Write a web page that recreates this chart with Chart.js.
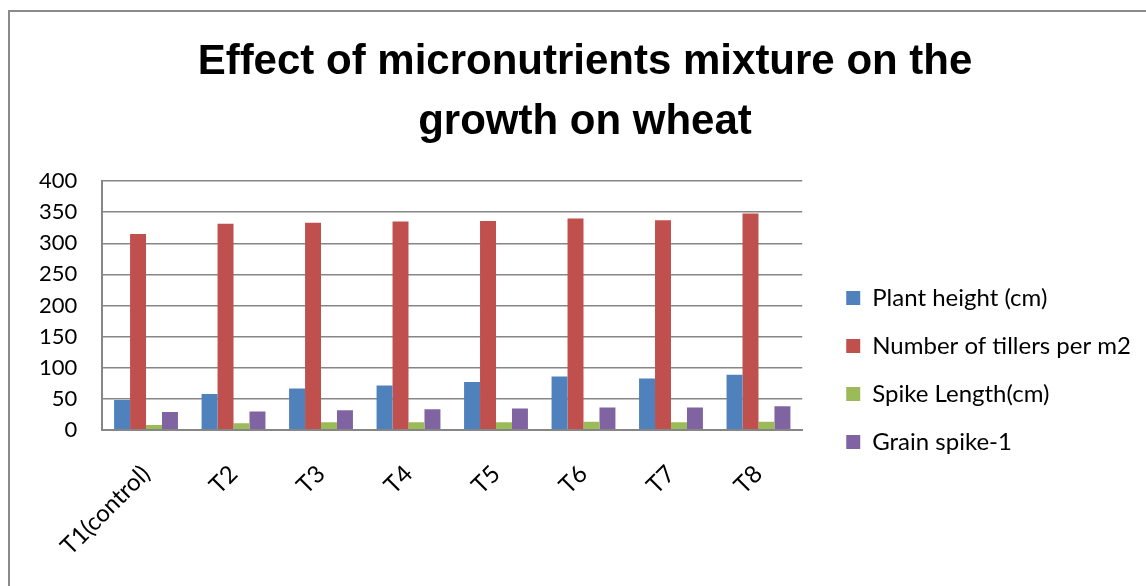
<!DOCTYPE html>
<html>
<head>
<meta charset="utf-8">
<script src="https://cdn.jsdelivr.net/npm/chart.js@4/dist/chart.umd.min.js"></script>
<style>
  html, body { margin: 0; padding: 0; background: #fff; overflow: hidden; }
  #frame {
    position: absolute; left: 8px; top: 10px;
    width: 1200px; height: 700px;
    border: 2px solid #8a8a8a;
  }
  #wrap { position: absolute; left: 10px; top: 12px; width: 1150px; height: 574px; }
</style>
</head>
<body>
<div id="frame"></div>
<div id="wrap"><canvas id="chart"></canvas></div>
<script>
const categories = ['T1(control)', 'T2', 'T3', 'T4', 'T5', 'T6', 'T7', 'T8'];
const plantHeight = [48, 57.5, 66.5, 71, 77, 85.5, 82.5, 88.5];
const tillers = [315, 331.5, 333, 335, 336, 340, 337, 348];
const spikeLength = [7.5, 10.5, 12, 12, 12, 13, 12, 13];
const grainSpike = [28.5, 29.5, 31.5, 33, 34, 36, 36, 38];
const yTicks = [0, 50, 100, 150, 200, 250, 300, 350, 400];

const axisGray = '#868686';
const fontFamily = 'Lato, "Liberation Sans", sans-serif';

// nudge legend and title sideways so they sit where the original has them
const boxShift = {
    id: 'boxShift',
    afterLayout(chart) {
        chart.legend.left += 20;
        chart.legend.right += 20;
        chart.titleBlock.left += 17.5;
        chart.titleBlock.right += 17.5;
    },
};

new Chart(document.getElementById('chart'), {
    type: 'bar',
    data: {
        labels: categories,
        datasets: [
            { label: 'Plant height (cm)', data: plantHeight, backgroundColor: '#4F81BD' },
            { label: 'Number of tillers per m2', data: tillers, backgroundColor: '#C0504D' },
            { label: 'Spike Length(cm)', data: spikeLength, backgroundColor: '#9BBB59' },
            { label: 'Grain spike-1', data: grainSpike, backgroundColor: '#8064A2' },
        ],
    },
    plugins: [boxShift],
    options: {
        responsive: true,
        maintainAspectRatio: false,
        animation: false,
        datasets: { bar: { barPercentage: 1, categoryPercentage: 0.73 } },
        layout: { padding: { left: 4, right: 39, top: 0, bottom: -5 } },
        plugins: {
            title: {
                display: true,
                text: ['Effect of micronutrients mixture on the', 'growth on wheat'],
                color: '#000',
                font: { family: '"Liberation Sans", Arial, sans-serif', size: 42, weight: 'bold', lineHeight: 1.43 },
                padding: { top: 20, bottom: 29 },
            },
            legend: {
                position: 'right',
                align: 'start',
                maxWidth: 400,
                title: { display: true, text: ' ', font: { size: 10 }, padding: { top: 238, bottom: 0 } },
                labels: {
                    color: '#000',
                    font: { family: fontFamily, size: 24 },
                    boxWidth: 14,
                    boxHeight: 14,
                    padding: 24,
                },
            },
            tooltip: { enabled: false },
        },
        scales: {
            x: {
                grid: { display: false, drawTicks: false },
                border: { color: axisGray, width: 2 },
                ticks: { color: '#000', font: { family: fontFamily, size: 24 }, minRotation: 45, maxRotation: 45, padding: 30 },
            },
            y: {
                min: 0,
                max: 400,
                afterBuildTicks: axis => { axis.ticks = yTicks.map(v => ({ value: v })); },
                grid: { color: axisGray, lineWidth: 1.5, drawTicks: false },
                border: { color: axisGray, width: 2 },
                ticks: { color: '#000', font: { family: fontFamily, size: 22 }, padding: 25, autoSkip: false },
            },
        },
    },
});
</script>
</body>
</html>
